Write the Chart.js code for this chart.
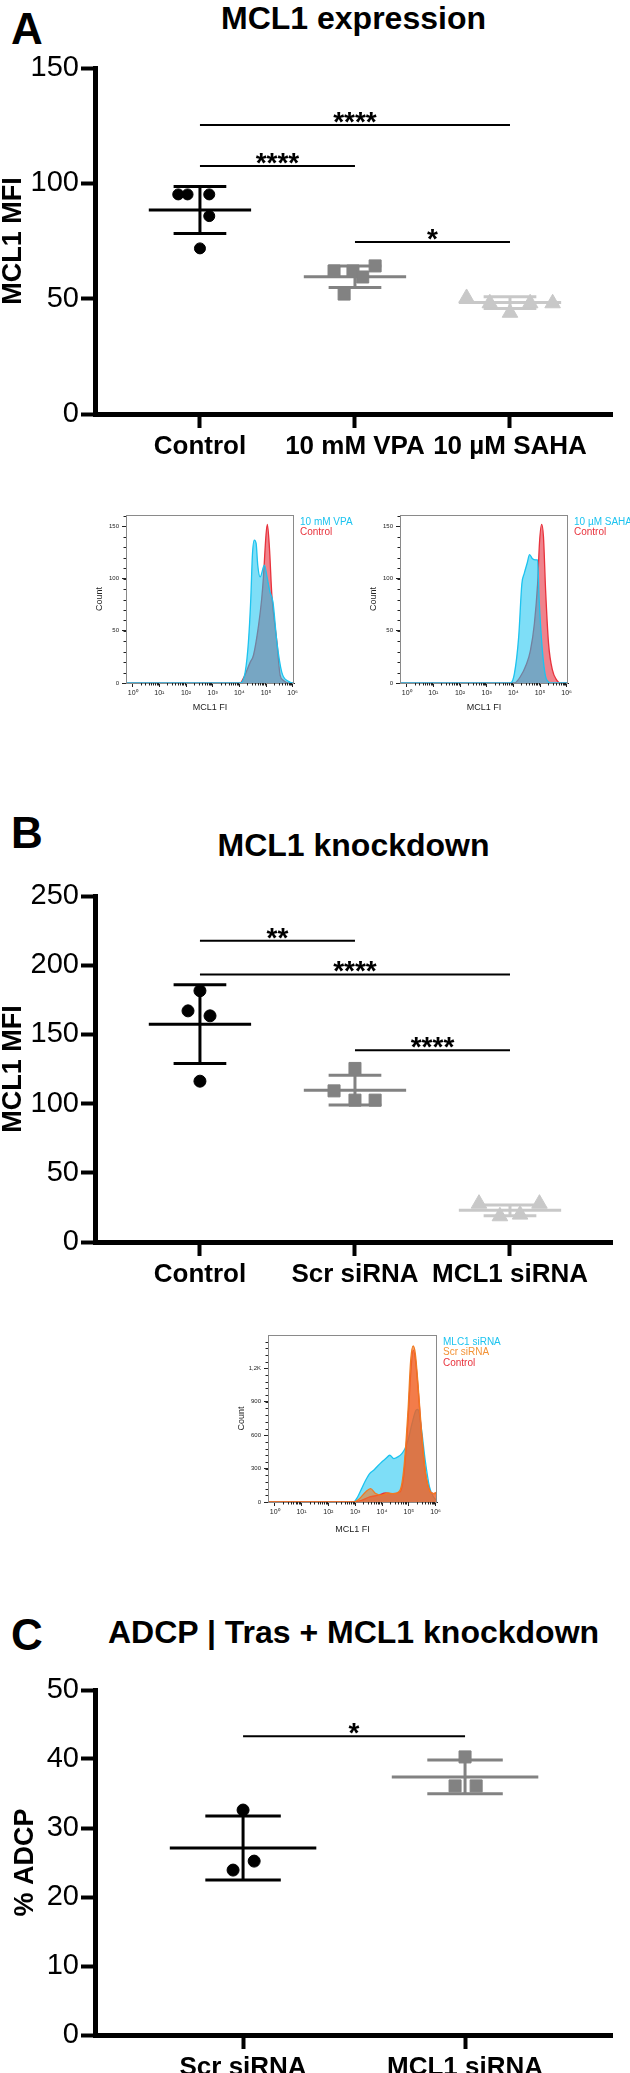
<!DOCTYPE html>
<html>
<head>
<meta charset="utf-8">
<script src="https://cdn.jsdelivr.net/npm/chart.js@4.4.1/dist/chart.umd.min.js"></script>
<style>
  body { margin: 0; background: #fff; width: 630px; height: 2073px; position: relative; overflow: hidden; font-family: "Liberation Sans", Arial, sans-serif; }
  canvas { position: absolute; }
  .lbl { position: absolute; font-weight: bold; color: #000; line-height: 1; white-space: nowrap; }
  .ttl { left: 95px; width: 517px; text-align: center; font-size: 32px; }
  .pnl { left: 11px; font-size: 44px; }
</style>
</head>
<body>
<div class="lbl pnl" style="top:7px">A</div>
<div class="lbl ttl" style="top:2px">MCL1 expression</div>
<div class="lbl pnl" style="top:811px">B</div>
<div class="lbl ttl" style="top:829px">MCL1 knockdown</div>
<div class="lbl pnl" style="top:1613px">C</div>
<div class="lbl ttl" style="top:1616px">ADCP | Tras + MCL1 knockdown</div>

<canvas id="chartA" width="630" height="480" style="left:0;top:0"></canvas>
<canvas id="histVPA" width="280" height="215" style="left:80px;top:505px"></canvas>
<canvas id="histSAHA" width="276" height="215" style="left:354px;top:505px"></canvas>
<canvas id="chartB" width="630" height="490" style="left:0;top:820px"></canvas>
<canvas id="histKD" width="290" height="215" style="left:222px;top:1325px"></canvas>
<canvas id="chartC" width="630" height="423" style="left:0;top:1650px"></canvas>

<script>
// ---- panel A : MCL1 expression ----
const catsA = ['Control', '10 mM VPA', '10 µM SAHA'];
const ctrlA = [95.2, 95.2, 95.2, 85.8, 71.8];
const ctrlAJit = [-0.14, -0.08, 0.06, 0.06, 0];
const vpaA = [62.0, 62.0, 64.2, 59.4, 52.0];
const vpaAJit = [-0.135, -0.013, 0.13, 0.05, -0.07];
const sahaA = [50.3, 48.0, 43.9, 48.0, 48.0];
const sahaAJit = [-0.28, -0.13, 0, 0.13, 0.275];
const meanA = [88.4, 59.5, 48.3];
const sdA = [10.2, 4.7, 2.55];
const sigA = [[0, 2, 125.3, '****'], [0, 1, 107.5, '****'], [1, 2, 74.6, '*']];

// flow histograms under A (x = log10 MCL1 FI, y = count)
const decadeVals = [0, 1, 2, 3, 4, 5, 6];
const decadeLabels = ['10⁰', '10¹', '10²', '10³', '10⁴', '10⁵', '10⁶'];
const vpaX = [-0.25, 4.04, 4.22, 4.34, 4.43, 4.49, 4.56, 4.63, 4.69, 4.78, 4.94, 5.05, 5.15, 5.26, 5.41, 5.59, 5.84, 5.98, 6.05];
const vpaY = [0, 0, 10.5, 39, 81, 122.5, 137, 133.7, 113, 101.7, 112.9, 100, 87, 77.7, 39, 10.5, 1.6, 0, 0];
const ctrlVpaX = [-0.25, 4.03, 4.15, 4.41, 4.53, 4.72, 4.84, 4.90, 5.0, 5.05, 5.13, 5.22, 5.41, 5.53, 5.65, 5.83, 6.05];
const ctrlVpaY = [0, 0, 4.5, 20, 26.6, 55, 81, 100, 141.7, 151.9, 129, 84, 39, 7.4, 2.6, 0, 0];
const sahaX = [-0.25, 3.89, 4.04, 4.20, 4.32, 4.41, 4.52, 4.61, 4.72, 4.84, 4.91, 4.97, 5.09, 5.21, 5.32, 5.39, 6.05];
const sahaY = [0, 0, 9, 44, 95, 105, 115, 123, 119, 118, 118, 79, 31, 6, 1, 0, 0];
const ctrlSahaX = [-0.25, 4.04, 4.26, 4.49, 4.64, 4.79, 4.91, 4.98, 5.06, 5.13, 5.21, 5.32, 5.47, 5.62, 5.77, 6.05];
const ctrlSahaY = [0, 0, 6, 18, 31, 57, 95, 134, 152, 140, 89, 38, 12, 3, 0, 0];
const countTicksA = [0, 50, 100, 150];
const countLabelsA = ['0', '50', '100', '150'];

// ---- panel B : MCL1 knockdown ----
const catsB = ['Control', 'Scr siRNA', 'MCL1 siRNA'];
const ctrlB = [181.5, 167, 163.4, 116.2];
const ctrlBJit = [0, -0.077, 0.065, 0];
const scrB = [125.4, 109.2, 102.5, 102.5];
const scrBJit = [0, -0.135, 0, 0.13];
const mclB = [27.7, 18.6, 19.8, 27.7];
const mclBJit = [-0.2, -0.065, 0.065, 0.19];
const meanB = [157.4, 109.7, 22.9];
const sdB = [28.4, 10.7, 3.9];
const sigB = [[0, 1, 217.6, '**'], [0, 2, 193.3, '****'], [1, 2, 138.6, '****']];

const kdX = [-0.25, 2.94, 3.09, 3.24, 3.39, 3.54, 3.69, 3.84, 3.99, 4.14, 4.29, 4.44, 4.59, 4.74, 4.86, 4.97, 5.12, 5.27, 5.34, 5.46, 5.61, 5.77, 5.92, 6.05];
const kdY = [0, 0, 45, 120, 195, 255, 285, 324, 360, 390, 420, 390, 405, 435, 480, 555, 705, 825, 831, 675, 375, 135, 45, 15];
const scrHX = [-0.25, 2.94, 3.16, 3.39, 3.57, 3.77, 3.99, 4.22, 4.44, 4.67, 4.82, 4.97, 5.07, 5.16, 5.24, 5.34, 5.46, 5.61, 5.77, 5.92, 6.05];
const scrHY = [0, 0, 30, 90, 120, 75, 60, 81, 75, 105, 315, 825, 1275, 1401, 1335, 1065, 675, 285, 105, 75, 90];
const ctrlKdX = [-0.25, 2.94, 3.24, 3.54, 3.84, 4.14, 4.37, 4.67, 4.82, 4.97, 5.07, 5.16, 5.24, 5.34, 5.46, 5.61, 5.77, 5.92, 6.05];
const ctrlKdY = [0, 0, 15, 45, 60, 81, 75, 90, 255, 735, 1155, 1365, 1290, 1035, 645, 270, 105, 75, 81];
const countTicksB = [0, 300, 600, 900, 1200];
const countLabelsB = ['0', '300', '600', '900', '1,2K'];

// ---- panel C : ADCP ----
const catsC = ['Scr siRNA', 'MCL1 siRNA'];
const scrC = [32.6, 23.9, 25.2];
const scrCJit = [0, -0.045, 0.05];
const mclC = [40.3, 36.1, 36.1];
const mclCJit = [0, -0.045, 0.05];
const meanC = [27.1, 37.4];
const sdC = [4.65, 2.45];
const sigC = [[0, 1, 43.3, '*']];

const BLACK = '#000000', GRAY = '#828282', LIGHT = '#c8c8c8';
const CYAN = '#1cc3ef', RED = '#e8323c', ORANGE = '#f39236';
const FONT = '"Liberation Sans", Arial, sans-serif';
Chart.defaults.font.family = FONT;
Chart.defaults.color = '#000';

const starPlugin = {
  id: 'stars',
  afterDatasetsDraw(chart, args, opts) {
    const {ctx, scales: {x, y}} = chart;
    ctx.save();
    ctx.font = 'bold 28px ' + FONT;
    ctx.textAlign = 'center';
    ctx.textBaseline = 'alphabetic';
    ctx.fillStyle = '#000';
    opts.bars.forEach(b => {
      const px = (x.getPixelForValue(b[0]) + x.getPixelForValue(b[1])) / 2;
      ctx.fillText(b[3], px, y.getPixelForValue(b[2]) + 6);
    });
    ctx.restore();
  }
};

function segLine(pts, color, w) {
  return {data: pts, showLine: true, borderColor: color, borderWidth: w, pointRadius: 0, pointHoverRadius: 0};
}

function dotChart(id, cfg) {
  const datasets = [];
  cfg.groups.forEach((g, c) => {
    datasets.push({
      data: g.vals.map((v, i) => ({x: c + g.jit[i], y: v})),
      pointStyle: g.style, pointRadius: g.r, pointBackgroundColor: g.color,
      pointBorderColor: g.color, pointBorderWidth: 1, showLine: false
    });
  });
  cfg.groups.forEach((g, c) => {
    const m = cfg.mean[c], s = cfg.sd[c];
    datasets.push(segLine([{x: c - 0.33, y: m}, {x: c + 0.33, y: m}], g.color, 3));
    datasets.push(segLine([{x: c - 0.17, y: m + s}, {x: c + 0.17, y: m + s}], g.color, 3));
    datasets.push(segLine([{x: c - 0.17, y: m - s}, {x: c + 0.17, y: m - s}], g.color, 3));
    datasets.push(segLine([{x: c, y: m - s}, {x: c, y: m + s}], g.color, 3));
  });
  cfg.sig.forEach(b => datasets.push(segLine([{x: b[0], y: b[2]}, {x: b[1], y: b[2]}], BLACK, 2)));

  const axisGrid = {drawOnChartArea: false, drawTicks: true, tickLength: 14, tickWidth: 4, tickColor: BLACK};
  const axisBorder = {display: true, width: 5, color: BLACK};
  new Chart(document.getElementById(id), {
    type: 'scatter',
    data: {datasets},
    options: {
      responsive: false, animation: false, devicePixelRatio: 1,
      layout: {padding: {top: cfg.padTop, right: 18, left: 0, bottom: 0}},
      plugins: {legend: {display: false}, tooltip: {enabled: false}, stars: {bars: cfg.sig}},
      scales: {
        x: {
          type: 'linear', min: cfg.xMin, max: cfg.xMax,
          afterBuildTicks: s => { s.ticks = cfg.cats.map((c, i) => ({value: i})); },
          afterFit: s => { s.height = cfg.xAxisH; },
          ticks: {callback: (v, i) => cfg.cats[i], font: {size: 26, weight: 'bold'}, padding: 3, maxRotation: 0, autoSkip: false, color: BLACK},
          grid: axisGrid, border: axisBorder
        },
        y: {
          min: 0, max: cfg.yMax,
          afterFit: s => { s.width = 95; },
          ticks: {stepSize: cfg.yStep, font: {size: 29, family: '"Liberation Sans Narrow", ' + FONT}, padding: 2, color: BLACK},
          title: {display: true, text: cfg.yTitle, font: {size: 27, weight: 'bold', lineHeight: 1}, padding: {top: cfg.titlePad, bottom: 0}, color: BLACK},
          grid: axisGrid, border: axisBorder
        }
      }
    },
    plugins: [starPlugin]
  });
}

// frame, minor ticks and coloured legend of the flow histograms
const histDeco = {
  id: 'histDeco',
  afterDraw(chart, args, opts) {
    const {ctx, chartArea: a, scales: {x: xs, y: ys}} = chart;
    ctx.save();
    ctx.strokeStyle = '#8a8a8a';
    ctx.lineWidth = 1;
    ctx.strokeRect(a.left + 0.5, a.top + 0.5, a.right - a.left - 1, a.bottom - a.top);
    ctx.strokeStyle = '#222';
    ctx.beginPath();
    for (let d = 0; d < 6; d++) {
      for (let k = 2; k <= 9; k++) {
        const px = Math.round(xs.getPixelForValue(d + Math.log10(k))) + 0.5;
        ctx.moveTo(px, a.bottom); ctx.lineTo(px, a.bottom + 2.5);
      }
    }
    for (let v = opts.yMinor; v < ys.max; v += opts.yMinor) {
      const py = Math.round(ys.getPixelForValue(v)) + 0.5;
      ctx.moveTo(a.left, py); ctx.lineTo(a.left - 2.5, py);
    }
    ctx.stroke();
    ctx.font = '10px ' + FONT;
    ctx.textBaseline = 'top';
    chart.data.datasets.forEach((d, i) => {
      ctx.fillStyle = d.legendColor || d.borderColor;
      ctx.fillText(d.label, a.right + 6, a.top + 2 + i * 10.5);
    });
    ctx.restore();
  }
};

function histChart(id, cfg) {
  new Chart(document.getElementById(id), {
    type: 'line',
    data: {
      datasets: cfg.series.map(s => ({
        label: s.label, data: s.xs.map((x, i) => ({x: x, y: s.ys[i]})),
        borderColor: s.line, backgroundColor: s.fill, legendColor: s.legend,
        fill: 'origin', borderWidth: 1.3, pointRadius: 0,
        cubicInterpolationMode: 'monotone', order: s.order || 0
      }))
    },
    options: {
      responsive: false, animation: false, devicePixelRatio: 1,
      layout: {padding: {top: 10, right: cfg.padRight, left: 0, bottom: 0}},
      plugins: {legend: {display: false}, tooltip: {enabled: false}, histDeco: {yMinor: cfg.yMinor}},
      scales: {
        x: {
          type: 'linear', min: -0.25, max: 6.05,
          afterBuildTicks: s => { s.ticks = decadeVals.map(v => ({value: v})); },
          afterFit: s => { s.height = cfg.xAxisH; },
          ticks: {callback: (v, i) => decadeLabels[i], font: {size: 7}, padding: 2, maxRotation: 0, autoSkip: false, color: '#222'},
          grid: {drawOnChartArea: false, tickLength: 4, tickColor: '#222'},
          border: {display: true, color: '#222', width: 1},
          title: {display: true, text: 'MCL1 FI', font: {size: 9}, padding: {top: 0, bottom: cfg.xTitlePad}, color: '#222'}
        },
        y: {
          min: 0, max: cfg.yMax,
          afterBuildTicks: s => { s.ticks = cfg.yTicks.map(v => ({value: v})); },
          afterFit: s => { s.width = 46; },
          ticks: {callback: (v, i) => cfg.yLabels[i], font: {size: 6}, padding: 3, color: '#222'},
          grid: {drawOnChartArea: false, tickLength: 4, tickColor: '#222'},
          border: {display: true, color: '#222', width: 1},
          title: {display: true, text: 'Count', font: {size: 9}, padding: {top: 14, bottom: 0}, color: '#222'}
        }
      }
    },
    plugins: [histDeco]
  });
}

const cyanFill = 'rgba(20,195,240,0.55)', redFill = 'rgba(228,30,45,0.55)', orangeFill = 'rgba(245,120,30,0.6)';

dotChart('chartA', {
  cats: catsA, yMax: 150, yStep: 50, yTitle: 'MCL1 MFI', titlePad: 0,
  xMin: -0.677, xMax: 2.658, padTop: 68, xAxisH: 66,
  mean: meanA, sd: sdA, sig: sigA,
  groups: [
    {vals: ctrlA, jit: ctrlAJit, color: BLACK, style: 'circle', r: 5.5},
    {vals: vpaA, jit: vpaAJit, color: GRAY, style: 'rect', r: 8.5},
    {vals: sahaA, jit: sahaAJit, color: LIGHT, style: 'triangle', r: 9}
  ]
});

histChart('histVPA', {
  yMax: 161, yTicks: countTicksA, yLabels: countLabelsA, yMinor: 10, padRight: 66, xAxisH: 37, xTitlePad: 7,
  series: [
    {label: '10 mM VPA', xs: vpaX, ys: vpaY, line: CYAN, fill: cyanFill},
    {label: 'Control', xs: ctrlVpaX, ys: ctrlVpaY, line: RED, fill: redFill}
  ]
});

histChart('histSAHA', {
  yMax: 161, yTicks: countTicksA, yLabels: countLabelsA, yMinor: 10, padRight: 62, xAxisH: 37, xTitlePad: 7,
  series: [
    {label: '10 µM SAHA', xs: sahaX, ys: sahaY, line: CYAN, fill: cyanFill},
    {label: 'Control', xs: ctrlSahaX, ys: ctrlSahaY, line: RED, fill: redFill}
  ]
});

dotChart('chartB', {
  cats: catsB, yMax: 250, yStep: 50, yTitle: 'MCL1 MFI', titlePad: 0,
  xMin: -0.677, xMax: 2.658, padTop: 76, xAxisH: 68,
  mean: meanB, sd: sdB, sig: sigB,
  groups: [
    {vals: ctrlB, jit: ctrlBJit, color: BLACK, style: 'circle', r: 6},
    {vals: scrB, jit: scrBJit, color: GRAY, style: 'rect', r: 8.5},
    {vals: mclB, jit: mclBJit, color: LIGHT, style: 'triangle', r: 9}
  ]
});

histChart('histKD', {
  yMax: 1500, yTicks: countTicksB, yLabels: countLabelsB, yMinor: 60, padRight: 75, xAxisH: 38, xTitlePad: 5,
  series: [
    {label: 'MLC1 siRNA', xs: kdX, ys: kdY, line: CYAN, fill: cyanFill, order: 3},
    {label: 'Scr siRNA', xs: scrHX, ys: scrHY, line: '#f07a22', fill: orangeFill, legend: ORANGE, order: 1},
    {label: 'Control', xs: ctrlKdX, ys: ctrlKdY, line: RED, fill: redFill, order: 2}
  ]
});

dotChart('chartC', {
  cats: catsC, yMax: 50, yStep: 10, yTitle: '% ADCP', titlePad: 12,
  xMin: -0.667, xMax: 1.662, padTop: 40, xAxisH: 38,
  mean: meanC, sd: sdC, sig: sigC,
  groups: [
    {vals: scrC, jit: scrCJit, color: BLACK, style: 'circle', r: 6},
    {vals: mclC, jit: mclCJit, color: GRAY, style: 'rect', r: 8.5}
  ]
});
</script>
</body>
</html>
